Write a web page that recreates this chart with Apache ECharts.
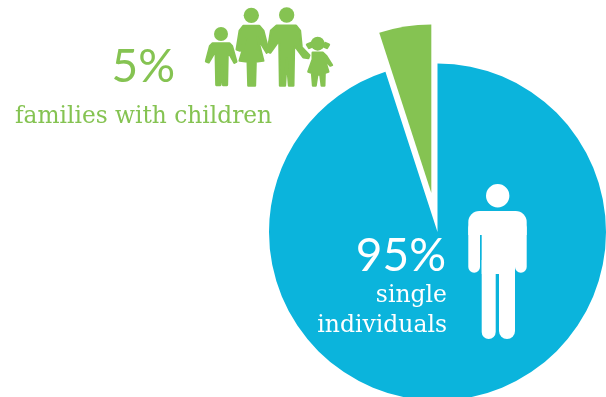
<!DOCTYPE html>
<html>
<head>
<meta charset="utf-8">
<style>html,body{margin:0;padding:0;background:#fff}#chart{width:606px;height:397px}</style>
<script src="https://cdn.jsdelivr.net/npm/echarts@6/dist/echarts.min.js"></script>
</head>
<body>
<div id="chart"></div>
<script>
// Household shares shown by the pie
var categories = ['single individuals', 'families with children'];
var shares = [95, 5];

var BLUE = '#0bb4dc';
var GREEN = '#85c352';
var NUMBER_FONT = 'Lato';
var WORD_FONT = 'DejaVu Serif';

function figure(points) {
  return { type: 'polygon', z: 20, shape: { points: points },
    style: { fill: GREEN, stroke: GREEN, lineWidth: 7, lineJoin: 'round' } };
}
function head(cx, cy, r) {
  return { type: 'circle', z: 20, shape: { cx: cx, cy: cy, r: r }, style: { fill: GREEN } };
}
function word(text, x, y, size, fill, font, weight, align) {
  return { type: 'text', z: 20, x: x, y: y, style: {
    text: text, fill: fill, fontFamily: font, fontSize: size, fontWeight: weight,
    textAlign: align, textVerticalAlign: 'bottom' } };
}
function limb(x, y, w, h, r) {
  return { type: 'rect', z: 20, shape: { x: x, y: y, width: w, height: h, r: r }, style: { fill: '#fff' } };
}

// Family pictogram, drawn at 3x inside a scaled group
var family = {
  type: 'group', x: 200, y: 0, scaleX: 1 / 3, scaleY: 1 / 3,
  children: [
    head(63, 102, 21),
    figure([[38,130],[88,130],[96,138],[109,185],[103,188],[83,152],[81,255],[69,255],[65,198],[61,255],[49,255],[47,152],[26,187],[18,184],[30,138]]),
    head(154, 46, 23),
    figure([[130,78],[178,78],[190,92],[205,150],[200,158],[172,112],[190,182],[167,185],[165,257],[145,257],[143,185],[119,182],[138,116],[120,152],[110,148],[119,92]]),
    head(260, 45, 23),
    figure([[230,77],[288,77],[300,92],[305,142],[328,166],[325,174],[310,172],[286,140],[282,146],[280,257],[267,257],[260,176],[255,257],[240,257],[238,120],[211,158],[203,154],[213,92]]),
    head(353, 131, 21),
    figure([[321,134],[332,129],[336,140],[327,144]]),
    figure([[387,134],[376,129],[372,140],[381,144]]),
    figure([[338,158],[368,158],[379,168],[396,195],[391,197],[374,178],[385,215],[374,219],[373,257],[365,257],[361,224],[352,224],[347,257],[339,257],[336,219],[325,215],[338,178]])
  ]
};

// Single person pictogram
var person = {
  type: 'group',
  children: [
    { type: 'circle', z: 20, shape: { cx: 497.7, cy: 195.7, r: 11.7 }, style: { fill: '#fff' } },
    limb(468.3, 211, 58.4, 24, [11, 11, 0, 0]),
    limb(468.3, 222, 11.7, 50.8, 5.8),
    limb(515, 222, 11.7, 50.8, 5.8),
    limb(481.7, 215, 33.3, 59, 0),
    limb(481.7, 260, 14, 79, [0, 0, 7, 7]),
    limb(499, 260, 16, 79, [0, 0, 8, 8])
  ]
};

var captions = [
  word(shares[1] + '%', 175, 90, 46, GREEN, NUMBER_FONT, 400, 'right'),
  word(categories[1], 15, 128, 23.3, GREEN, WORD_FONT, 400, 'left'),
  word(shares[0] + '%', 446, 279, 46, '#fff', NUMBER_FONT, 400, 'right'),
  word('single', 447, 307.5, 23.5, '#fff', WORD_FONT, 400, 'right'),
  word('individuals', 447, 337.5, 23.5, '#fff', WORD_FONT, 400, 'right')
];

var chart = echarts.init(document.getElementById('chart'), null, { renderer: 'canvas' });
chart.setOption({
  animation: false,
  backgroundColor: '#fff',
  series: [{
    type: 'pie',
    center: [437.5, 232],
    radius: [0, 168.5],
    startAngle: 90,
    clockwise: true,
    silent: true,
    selectedMode: 'single',
    selectedOffset: 39.5,
    label: { show: false },
    labelLine: { show: false },
    data: [
      { name: categories[0], value: shares[0], itemStyle: { color: BLUE } },
      { name: categories[1], value: shares[1], selected: true, itemStyle: { color: GREEN } }
    ]
  }],
  graphic: { elements: [family, person].concat(captions) }
});
</script>
</body>
</html>
